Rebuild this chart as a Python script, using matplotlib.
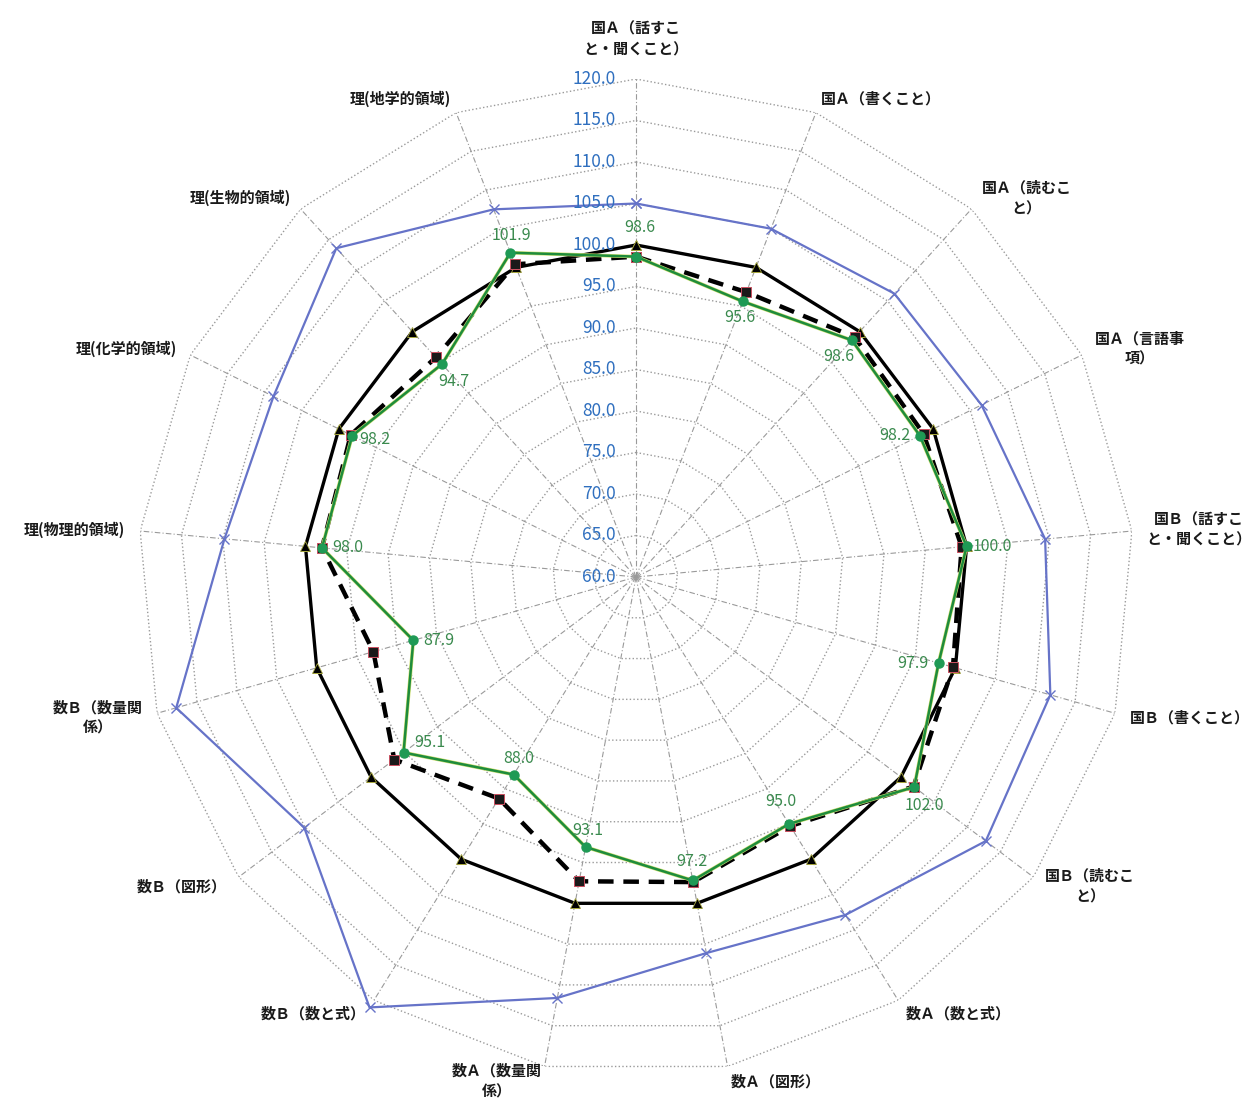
import numpy as np
import matplotlib
matplotlib.use('Agg')
import matplotlib.pyplot as plt

plt.rcParams['font.family'] = ['Noto Sans CJK JP', 'DejaVu Sans']

# categories, clockwise from the top
categories = [
    '国Ａ（話すこ\nと・聞くこと）', '国Ａ（書くこと）', '国Ａ（読むこ\nと）', '国Ａ（言語事\n項）',
    '国Ｂ（話すこ\nと・聞くこと）', '国Ｂ（書くこと）', '国Ｂ（読むこ\nと）', '数Ａ（数と式）',
    '数Ａ（図形）', '数Ａ（数量関\n係）', '数Ｂ（数と式）', '数Ｂ（図形）', '数Ｂ（数量関\n係）',
    '理(物理的領域)', '理(化学的領域)', '理(生物的領域)', '理(地学的領域)',
]

# values (national average = 100)
upper = [105.0, 105.0, 106.2, 106.5, 109.5, 111.9, 112.8, 107.9, 106.1,
         111.6, 121.0, 110.1, 117.6, 109.8, 108.8, 113.6, 107.5]
national = [100.0, 100.0, 100.0, 100.0, 100.0, 100.0, 100.0, 100.0, 100.0,
            100.0, 100.0, 100.0, 100.0, 100.0, 100.0, 100.0, 100.0]
prefecture = [98.6, 96.8, 99.1, 98.7, 99.4, 99.7, 101.9, 95.3, 97.4,
              97.3, 91.4, 96.5, 92.9, 98.0, 98.4, 95.8, 100.4]
school = [98.6, 95.6, 98.6, 98.2, 100.0, 97.9, 102.0, 95.0, 97.2,
          93.1, 88.0, 95.1, 87.9, 98.0, 98.2, 94.7, 101.9]

r_ticks = [60, 65, 70, 75, 80, 85, 90, 95, 100, 105, 110, 115, 120]

# where each green value label sits relative to its point (pixels)
label_pos = [('center', 4, 29), ('center', -3, -16), ('center', -13, -16), ('right', -9, 0),
             ('left', 6, 0), ('right', -10, 0), ('center', 10, -18), ('center', -8, 22),
             ('center', -1, 19), ('center', 2, 17), ('center', 5, 16), ('left', 11, 10),
             ('left', 10, 0), ('left', 10, 0), ('left', 7, -4), ('center', 12, -17),
             ('center', 1, 17)]

n = len(categories)
theta = np.linspace(0, 2 * np.pi, n, endpoint=False)
tc = np.append(theta, theta[0])


def closed(v):
    return np.append(v, v[0])


fig = plt.figure(figsize=(12.55, 11.05), dpi=100)
ax = fig.add_axes([0.1100, 0.02715, 0.7936, 0.9014], projection='polar')
ax.set_theta_zero_location('N')
ax.set_theta_direction(-1)
ax.set_ylim(60, 120)
ax.grid(False)
ax.set_xticks([])
ax.set_yticks([])
ax.spines['polar'].set_visible(False)

# spider web grid
grid_c = '#9a9a9a'
for v in r_ticks[1:]:
    ax.plot(tc, [v] * (n + 1), color=grid_c, ls=':', lw=1.0, zorder=1)
for t in theta:
    ax.plot([t, t], [60, 120], color=grid_c, ls=(0, (5, 2, 1, 2)), lw=0.8, zorder=1)

# radial tick labels
for v in r_ticks:
    ax.annotate('%.1f' % v, (0, v), xytext=(-20, 0), textcoords='offset pixels',
                ha='right', va='center', color='#2f6fbf', fontsize=12.5, zorder=6)

# series
ax.plot(tc, closed(upper), color='#6673c8', lw=1.6, marker='x', ms=7, mew=1.0,
        clip_on=False, zorder=3)
ax.plot(tc, closed(national), color='black', lw=2.4, marker='^', ms=7.5,
        mfc='black', mec='#a8a840', mew=0.6, zorder=4)
ax.plot(tc, closed(prefecture), color='black', lw=3.2, dashes=(3.5, 2.2),
        marker='s', ms=7, mfc='#1a1a1a', mec='#c85060', mew=0.7, zorder=4)
ax.plot(tc, closed(school), color='#d0e070', lw=2.6, zorder=4)
ax.plot(tc, closed(school), color='#1e8c3c', lw=1.8, marker='o', ms=6.5,
        mfc='#1f9a55', mec='#1f9a55', zorder=5)

for i, v in enumerate(school):
    ha, dx, dy = label_pos[i]
    ax.annotate('%.1f' % v, (theta[i], v), xytext=(dx, dy), textcoords='offset pixels',
                ha=ha, va='center', color='#3a8a4e', fontsize=11.5, zorder=7)

# category labels
for i, lab in enumerate(categories):
    s = np.sin(theta[i])
    if abs(s) < 0.05:
        ha = 'center'
    elif s > 0:
        ha = 'left'
    else:
        ha = 'right'
    va = 'bottom' if i == 0 else 'center'
    r = 122.6 if i == 0 else 121.8
    ax.text(theta[i], r, lab, ha=ha, va=va, ma='center', fontsize=10.8,
            fontweight='bold', color='#1a1a1a', linespacing=1.35)

plt.savefig('out.png', dpi=100)
